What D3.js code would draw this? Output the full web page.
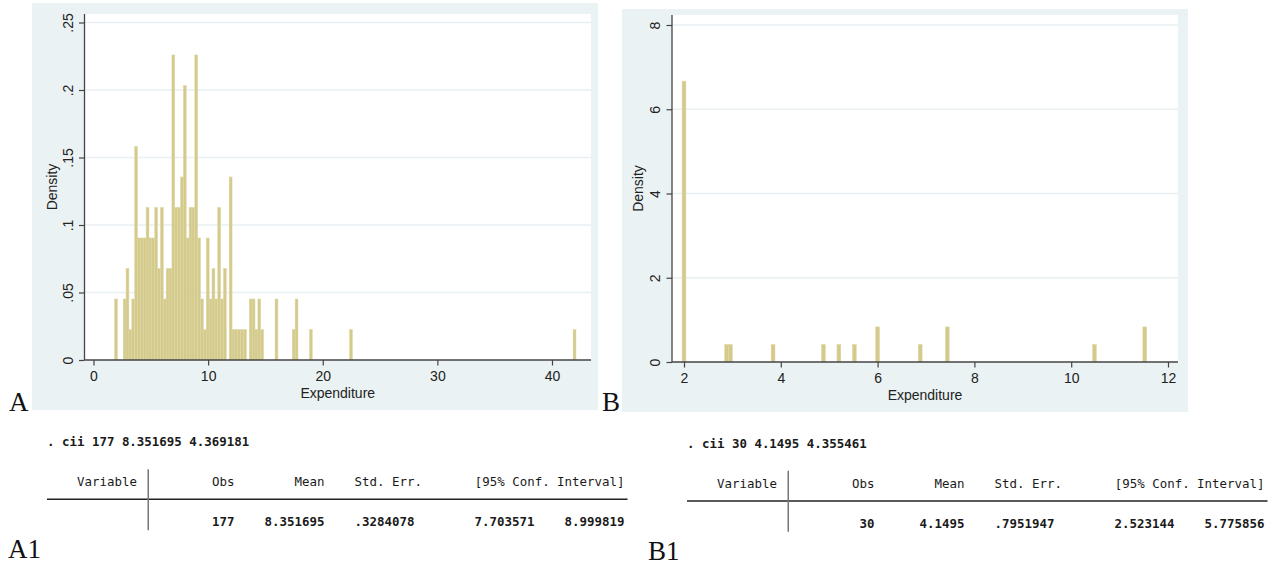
<!DOCTYPE html>
<html>
<head>
<meta charset="utf-8">
<script src="https://cdnjs.cloudflare.com/ajax/libs/d3/7.8.5/d3.min.js"></script>
<style>
  body { margin: 0; background: #fff; }
  svg { display: block; }
  .tick text { font-family: "Liberation Sans", Arial, sans-serif; font-size: 14px; fill: #222; }
  .tick line { stroke: #444; stroke-width: 1.2; }
  .axis-title { font-family: "Liberation Sans", Arial, sans-serif; font-size: 14px; fill: #222; }
  .panel-label { font-family: "Liberation Serif", "Times New Roman", serif; font-size: 27px; fill: #111; }
  .mono { font-family: "DejaVu Sans Mono", "Liberation Mono", monospace; font-size: 12.45px; fill: #1a1a1a; }
</style>
</head>
<body>
<div id="chart"></div>
<script>
// ---- panel A : 177 obs, bins of width .25 starting at 1.84 ----
var aN = 177;
var aBinStart = 1.84;
var aBinWidth = 0.25;
var aBins   = [0,3,4,5,6,7,8,9,10,11,12,13,14,15,16,17,18,19,20,21,22,23,24,25,26,27,28,29,30,31,32,33,34,35,36,37,38,40,41,42,43,44,45,47,48,49,50,51,56,62,63,68,82,160];
var aCounts = [2,2,3,1,2,7,4,4,4,5,4,4,5,3,5,2,3,3,10,5,5,6,9,4,5,5,10,4,2,1,4,2,3,2,5,2,3,6,1,1,1,1,1,2,2,1,2,1,2,1,2,1,1,1];
var aXTicks = [0, 10, 20, 30, 40];
var aYTicks = [0, 0.05, 0.1, 0.15, 0.2, 0.25];
var aYLabels = ['0', '.05', '.1', '.15', '.2', '.25'];

// ---- panel B : 30 obs, bins of width .08 starting at 1.96 ----
var bN = 30;
var bBinStart = 1.96;
var bBinWidth = 0.08;
var bBins   = [0, 11, 12, 23, 36, 40, 44, 50, 61, 68, 106, 119];
var bCounts = [16, 1, 1, 1, 1, 1, 1, 2, 1, 2, 1, 2];
var bXTicks = [2, 4, 6, 8, 10, 12];
var bYTicks = [0, 2, 4, 6, 8];
var bYLabels = ['0', '2', '4', '6', '8'];

// ---- stata cii output ----
var headerCols = ['Variable', 'Obs', 'Mean', 'Std. Err.', '[95% Conf. Interval]'];
var aCommand = '. cii 177 8.351695 4.369181';
var aStats = ['177', '8.351695', '.3284078', '7.703571', '8.999819'];
var bCommand = '. cii 30 4.1495 4.355461';
var bStats = ['30', '4.1495', '.7951947', '2.523144', '5.775856'];

var svg = d3.select('#chart').append('svg')
  .attr('width', 1277)
  .attr('height', 567);

function drawHist(p) {
  var g = svg.append('g');

  // stata background + white plot region
  g.append('rect')
    .attr('x', p.bg[0]).attr('y', p.bg[1])
    .attr('width', p.bg[2]).attr('height', p.bg[3])
    .attr('fill', '#EAF2F3');
  g.append('rect')
    .attr('x', p.left).attr('y', p.top)
    .attr('width', p.right - p.left).attr('height', p.bottom - p.top)
    .attr('fill', '#fff');

  var x = d3.scaleLinear().domain(p.xDomain).range(p.xRange);
  var y = d3.scaleLinear().domain(p.yDomain).range([p.bottom, p.yTopPx]);

  // grid lines
  g.selectAll('.grid')
    .data(p.yTicks.filter(function(d) { return d > 0; }))
    .enter().append('line')
      .attr('class', 'grid')
      .attr('x1', p.left).attr('x2', p.right)
      .attr('y1', function(d) { return y(d); })
      .attr('y2', function(d) { return y(d); })
      .attr('stroke', '#E8F0F2')
      .attr('stroke-width', 1.3);

  // bars
  var bars = p.bins.map(function(b, i) { return {bin: b, count: p.counts[i]}; });
  function left(d) { return x(p.start + d.bin * p.width); }
  function dens(d) { return d.count / (p.n * p.width); }
  g.selectAll('.bar')
    .data(bars)
    .enter().append('rect')
      .attr('class', 'bar')
      .attr('x', left)
      .attr('width', function(d) { return x(p.start + (d.bin + 1) * p.width) - left(d); })
      .attr('y', function(d) { return y(dens(d)); })
      .attr('height', function(d) { return p.bottom - y(dens(d)); })
      .attr('fill', '#D3CA8C')
      .attr('stroke', '#DFD8A6')
      .attr('stroke-width', 0.5);

  // x axis
  var xa = g.append('g')
    .attr('transform', 'translate(0,' + p.bottom + ')')
    .call(d3.axisBottom(x).tickValues(p.xTicks).tickSize(5.5).tickPadding(5.5).tickFormat(d3.format('d')));
  xa.select('.domain').remove();

  // y axis, labels turned vertical
  var ya = g.append('g')
    .attr('transform', 'translate(' + p.left + ',0)')
    .call(d3.axisLeft(y).tickValues(p.yTicks).tickSize(5.5)
      .tickFormat(function(d, i) { return p.yLabels[i]; }));
  ya.select('.domain').remove();
  ya.selectAll('.tick text')
    .attr('x', null)
    .attr('dy', '0.35em')
    .attr('text-anchor', 'middle')
    .attr('transform', 'translate(-16.5,0) rotate(-90)');

  // axis lines
  g.append('line')
    .attr('x1', p.left).attr('x2', p.left)
    .attr('y1', p.top).attr('y2', p.bottom)
    .attr('stroke', '#444').attr('stroke-width', 1.3);
  g.append('line')
    .attr('x1', p.left).attr('x2', p.right)
    .attr('y1', p.bottom).attr('y2', p.bottom)
    .attr('stroke', '#444').attr('stroke-width', 1.3);

  // titles
  g.append('text')
    .attr('class', 'axis-title')
    .attr('text-anchor', 'middle')
    .attr('x', (p.left + p.right) / 2)
    .attr('y', p.bottom + 33)
    .attr('dy', '0.35em')
    .text('Expenditure');
  g.append('text')
    .attr('class', 'axis-title')
    .attr('text-anchor', 'middle')
    .attr('dy', '0.35em')
    .attr('transform', 'translate(' + p.yTitleX + ',' + (p.top + p.bottom) / 2 + ') rotate(-90)')
    .text('Density');

  svg.append('text')
    .attr('class', 'panel-label')
    .attr('x', p.label[0]).attr('y', p.label[1])
    .text(p.label[2]);
}

function drawTable(t) {
  var cw = 7.5;
  var g = svg.append('g').attr('transform', 'translate(' + t.left + ',' + t.top + ')');
  var headEnds = [12, 25, 37, 50, 77];
  var dataEnds = [25, 37, 49, 65, 77];

  g.append('text')
    .attr('class', 'mono')
    .attr('font-weight', 'bold')
    .attr('x', 0).attr('y', 0).attr('dy', '0.36em')
    .text(t.command);

  g.selectAll('.head')
    .data(headerCols)
    .enter().append('text')
      .attr('class', 'mono')
      .attr('text-anchor', 'end')
      .attr('x', function(d, i) { return headEnds[i] * cw; })
      .attr('y', 40).attr('dy', '0.36em')
      .text(function(d) { return d; });

  g.selectAll('.val')
    .data(t.stats)
    .enter().append('text')
      .attr('class', 'mono')
      .attr('font-weight', 'bold')
      .attr('text-anchor', 'end')
      .attr('x', function(d, i) { return dataEnds[i] * cw; })
      .attr('y', 80).attr('dy', '0.36em')
      .text(function(d) { return d; });

  g.append('line')
    .attr('x1', 0).attr('x2', 77 * cw + 3)
    .attr('y1', 57.6).attr('y2', 57.6)
    .attr('stroke', '#222').attr('stroke-width', 1.5);
  g.append('line')
    .attr('x1', 13.5 * cw).attr('x2', 13.5 * cw)
    .attr('y1', 27.5).attr('y2', 88.5)
    .attr('stroke', '#777').attr('stroke-width', 1.5);

  svg.append('text')
    .attr('class', 'panel-label')
    .attr('x', t.label[0]).attr('y', t.label[1])
    .text(t.label[2]);
}

drawHist({
  n: aN, start: aBinStart, width: aBinWidth, bins: aBins, counts: aCounts,
  xTicks: aXTicks, yTicks: aYTicks, yLabels: aYLabels,
  bg: [32, 3, 566, 407], left: 84.5, right: 591, top: 14, bottom: 360,
  xDomain: [0, 40], xRange: [93.5, 552], yDomain: [0, 0.25], yTopPx: 22.5,
  yTitleX: 52, label: [9, 411, 'A']
});

drawHist({
  n: bN, start: bBinStart, width: bBinWidth, bins: bBins, counts: bCounts,
  xTicks: bXTicks, yTicks: bYTicks, yLabels: bYLabels,
  bg: [622, 9, 566, 403], left: 672, right: 1178, top: 15, bottom: 362,
  xDomain: [2, 12], xRange: [684, 1168], yDomain: [0, 8], yTopPx: 25,
  yTitleX: 638.5, label: [602, 411, 'B']
});

drawTable({command: aCommand, stats: aStats, left: 47, top: 441.7, label: [8, 558, 'A1']});
drawTable({command: bCommand, stats: bStats, left: 687, top: 443.3, label: [648, 560, 'B1']});
</script>
</body>
</html>
